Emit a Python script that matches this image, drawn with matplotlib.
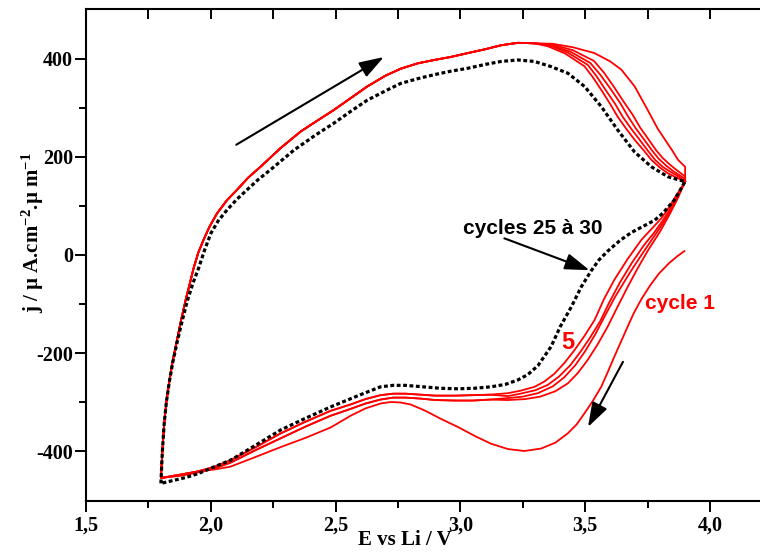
import numpy as np
import matplotlib
matplotlib.use("Agg")
import matplotlib.pyplot as plt

plt.rcParams['mathtext.fontset'] = 'custom'
plt.rcParams['mathtext.bf'] = 'Liberation Serif:bold'
plt.rcParams['mathtext.rm'] = 'Liberation Serif:bold'
plt.rcParams['mathtext.default'] = 'bf'

# --- cycles 25 to 30 (black, superposed) ---
black_up_E = [1.800, 1.806, 1.813, 1.822, 1.834, 1.848, 1.865, 1.885, 1.905, 1.928, 1.951, 1.975,
              2.000, 2.030, 2.065, 2.105, 2.145, 2.190, 2.239, 2.333, 2.420, 2.493, 2.560, 2.627,
              2.700, 2.760, 2.830, 2.895, 2.960, 3.029, 3.100, 3.163, 3.230, 3.296, 3.360, 3.430,
              3.497, 3.564, 3.630, 3.698, 3.765, 3.830, 3.870, 3.900]
black_up_j = [-466, -400, -345, -300, -258, -218, -178, -135, -95, -58, -27, 10,
              44, 70, 92, 114, 133, 154, 174, 214, 245, 269, 293, 316,
              335, 350, 360, 368, 375, 381, 389, 395, 398, 395, 385, 371,
              344, 303, 255, 210, 180, 160, 154, 150]
black_dn_E = [3.900, 3.857, 3.810, 3.778, 3.730, 3.685, 3.640, 3.590, 3.555, 3.524, 3.484, 3.444,
              3.400, 3.363, 3.310, 3.270, 3.230, 3.180, 3.122, 3.055, 2.990, 2.920, 2.850, 2.780,
              2.730, 2.680, 2.600, 2.480, 2.380, 2.280, 2.180, 2.078, 2.010, 1.950, 1.900, 1.850, 1.800]
black_dn_j = [150, 112, 85, 71, 58, 46, 30, 8, -10, -32, -65, -106,
              -146, -187, -226, -244, -255, -264, -269, -272, -273, -272, -269, -266,
              -266, -269, -285, -310, -333, -357, -388, -419, -433, -446, -454, -460, -466]

# --- cycle 1 (red), starts at 3.9 V going cathodic ---
c1_dn_E = [3.897, 3.870, 3.835, 3.795, 3.760, 3.725, 3.695, 3.670, 3.643, 3.616, 3.590, 3.564, 3.530,
           3.497, 3.465, 3.430, 3.380, 3.323, 3.256, 3.190, 3.122, 3.060, 2.990, 2.920, 2.860,
           2.800, 2.760, 2.720, 2.680, 2.620, 2.560, 2.480, 2.380, 2.280, 2.180, 2.078, 2.010,
           1.944, 1.880, 1.800]
c1_dn_j = [8, -2, -17, -38, -62, -90, -118, -146, -177, -208, -239, -269, -298,
           -323, -346, -364, -383, -395, -400, -396, -385, -370, -351, -334, -318,
           -305, -301, -300, -303, -313, -328, -352, -373, -392, -412, -432, -438,
           -442, -448, -455]

# anodic branch shared by red cycles 1-5 (up to the peak)
red_up_E = [1.800, 1.806, 1.813, 1.822, 1.834, 1.846, 1.862, 1.880, 1.900, 1.915, 1.931, 1.950,
            1.971, 1.995, 2.025, 2.065, 2.105, 2.150, 2.199, 2.279, 2.360, 2.420, 2.493, 2.560,
            2.627, 2.700, 2.760, 2.828, 2.895, 2.960, 3.029, 3.100, 3.163, 3.230, 3.296]
red_up_j = [-455, -400, -345, -300, -258, -220, -180, -135, -90, -60, -27, 5,
            31, 58, 85, 112, 133, 158, 180, 218, 252, 272, 296, 320,
            344, 366, 380, 391, 398, 404, 412, 420, 428, 433, 432]

# anodic decay after the peak, one per red cycle
c1_top_E = [3.37, 3.45, 3.537, 3.60, 3.645, 3.698, 3.75, 3.79, 3.82, 3.85, 3.872, 3.9, 3.9]
c1_top_j = [431, 424, 412, 395, 378, 344, 296, 258, 235, 212, 194, 180, 150]
c2_top_E = [3.37, 3.45, 3.535, 3.575, 3.615, 3.655, 3.69, 3.72, 3.752, 3.785, 3.81, 3.84, 3.862, 3.885, 3.9, 3.9]
c2_top_j = [429, 418, 396, 372, 343, 312, 286, 260, 237, 213, 198, 184, 175, 166, 160, 150]
c3_top_E = [3.36, 3.44, 3.52, 3.56, 3.60, 3.64, 3.67, 3.703, 3.735, 3.768, 3.795, 3.825, 3.85, 3.88, 3.9, 3.9]
c3_top_j = [428, 415, 392, 368, 340, 310, 284, 258, 236, 213, 196, 182, 172, 162, 155, 150]
c4_top_E = [3.36, 3.43, 3.51, 3.545, 3.58, 3.62, 3.65, 3.685, 3.718, 3.752, 3.78, 3.81, 3.84, 3.875, 3.9]
c4_top_j = [427, 413, 388, 365, 338, 308, 282, 257, 235, 212, 194, 180, 170, 160, 150]
c5_top_E = [3.35, 3.42, 3.497, 3.53, 3.564, 3.60, 3.63, 3.665, 3.698, 3.735, 3.765, 3.80, 3.83, 3.87, 3.9]
c5_top_j = [426, 411, 385, 363, 337, 308, 282, 257, 235, 213, 194, 178, 167, 157, 150]

# cathodic branches of cycles 2-5 (upper part)
c2_dn_E = [3.9, 3.87, 3.84, 3.80, 3.752, 3.71, 3.67, 3.63, 3.59, 3.55, 3.51, 3.47, 3.43, 3.38, 3.32, 3.26, 3.19]
c2_dn_j = [150, 115, 85, 48, 10, -27, -65, -105, -146, -182, -214, -241, -262, -278, -289, -294, -296]
c3_dn_E = [3.9, 3.867, 3.838, 3.805, 3.765, 3.725, 3.68, 3.62, 3.58, 3.54, 3.50, 3.46, 3.415, 3.37, 3.31, 3.25, 3.19]
c3_dn_j = [150, 116, 88, 60, 30, 0, -35, -85, -123, -162, -196, -225, -250, -268, -282, -289, -292]
c4_dn_E = [3.9, 3.865, 3.835, 3.81, 3.775, 3.735, 3.688, 3.64, 3.598, 3.56, 3.52, 3.48, 3.44, 3.395, 3.35, 3.30, 3.24, 3.19]
c4_dn_j = [150, 117, 90, 70, 45, 20, -15, -55, -95, -135, -168, -198, -225, -248, -265, -276, -283, -288]
c5_dn_E = [3.9, 3.86, 3.829, 3.805, 3.765, 3.725, 3.67, 3.616, 3.575, 3.537, 3.497, 3.457, 3.417, 3.377, 3.337, 3.297, 3.24, 3.19]
c5_dn_j = [150, 118, 92, 75, 53, 31, -8, -51, -90, -133, -165, -194, -220, -242, -258, -269, -277, -282]

# cathodic tails (below 3.19 V)
tail_E = [3.12, 3.05, 2.98, 2.90, 2.84, 2.78, 2.73, 2.68, 2.62, 2.56, 2.48, 2.38, 2.28, 2.18, 2.078, 2.01, 1.944, 1.88, 1.80]
tail_j_23 = [-295, -297, -297, -296, -293, -291, -291, -295, -303, -314, -328, -350, -374, -398, -424, -436, -444, -450, -455]
tail_j_45 = [-285, -286, -287, -287, -285, -283, -283, -286, -294, -305, -318, -340, -364, -392, -419, -433, -442, -448, -455]

x_ticks = [1.5, 2.0, 2.5, 3.0, 3.5, 4.0]
x_labels = ['1,5', '2,0', '2,5', '3,0', '3,5', '4,0']
y_ticks = [-400, -200, 0, 200, 400]
y_labels = ['-400', '-200', '0', '200', '400']

RED = '#ff0000'
fig = plt.figure(figsize=(7.6, 5.53), dpi=100)
ax = fig.add_axes([86 / 760, 1 - 501 / 553, 674 / 760, 492 / 553])

lw_red = 1.3
# cycle 1
ax.plot(c1_dn_E + red_up_E + c1_top_E, c1_dn_j + red_up_j + c1_top_j, color=RED, lw=lw_red)
# cycles 2-5
for dn_E, dn_j, tail_j, top_E, top_j in [
        (c2_dn_E, c2_dn_j, tail_j_23, c2_top_E, c2_top_j),
        (c3_dn_E, c3_dn_j, tail_j_23, c3_top_E, c3_top_j),
        (c4_dn_E, c4_dn_j, tail_j_45, c4_top_E, c4_top_j),
        (c5_dn_E, c5_dn_j, tail_j_45, c5_top_E, c5_top_j)]:
    ax.plot(dn_E + tail_E + red_up_E + top_E, dn_j + tail_j + red_up_j + top_j,
            color=RED, lw=lw_red)
# cycles 25 to 30
ax.plot(black_up_E + black_dn_E, black_up_j + black_dn_j, color='black', lw=2.3,
        linestyle=(0, (1.2, 0.8)))

ax.set_xlim(1.5, 4.2)
ax.set_ylim(-502, 502)

tick_font = dict(family='Liberation Serif', weight='bold', size=14.5)
ax.set_xticks(x_ticks)
ax.set_xticklabels(x_labels, **tick_font)
ax.set_xticks(np.arange(1.75, 4.2, 0.5), minor=True)
ax.set_yticks(y_ticks)
ax.set_yticklabels(y_labels, **tick_font)
ax.set_yticks([-300, -100, 100, 300], minor=True)
ax.tick_params(which='major', direction='out', length=8, width=1.4, pad=1.5)
ax.tick_params(which='minor', direction='out', length=5, width=1.4)
ax.tick_params(axis='x', which='major', pad=2.5)

ax.spines['right'].set_visible(False)
for s in ['left', 'bottom', 'top']:
    ax.spines[s].set_linewidth(1.5)

top = ax.secondary_xaxis('top')
top.set_xticks(np.arange(1.75, 4.2, 0.25))
top.tick_params(direction='in', length=7, width=1.4, labeltop=False)
top.spines['top'].set_visible(False)

# arrows
arrow = dict(arrowstyle='-|>,head_length=0.75,head_width=0.25', color='black', lw=1.5,
             mutation_scale=20, shrinkA=0, shrinkB=0)
ax.annotate('', xy=(2.693, 404), xytext=(2.102, 225), arrowprops=arrow)
ax.annotate('', xy=(3.517, -31), xytext=(3.176, 34), arrowprops=arrow)
ax.annotate('', xy=(3.511, -351), xytext=(3.651, -218), arrowprops=arrow)

ax.text(3.291, 55, 'cycles 25 à 30', family='Liberation Sans', weight='bold', size=15,
        ha='center', va='center', color='black')
ax.text(3.88, -98, 'cycle 1', family='Liberation Sans', weight='bold', size=15,
        ha='center', va='center', color=RED)
ax.text(3.431, -178, '5', family='Liberation Sans', weight='bold', size=17,
        ha='center', va='center', color=RED)

fig.text(405 / 760, 1 - 540 / 553, 'E vs Li / V', family='Liberation Serif', weight='bold',
         size=15, ha='center', va='center')
fig.text(33 / 760, 1 - 233 / 553, 'j / µ A.cm$^{-2}$.µ m$^{-1}$', family='Liberation Serif',
         weight='bold', size=15, ha='center', va='center', rotation=90)

fig.savefig('out.png', dpi=100)
